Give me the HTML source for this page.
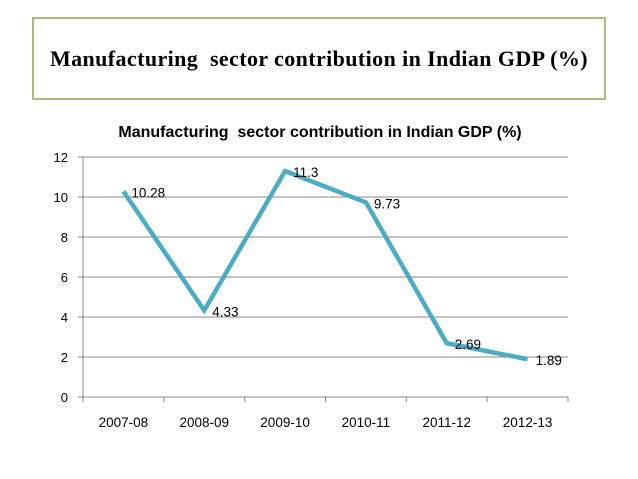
<!DOCTYPE html>
<html><head><meta charset="utf-8"><style>
body{margin:0;background:#fff;width:638px;height:479px;overflow:hidden;position:relative;font-family:"Liberation Sans",sans-serif}
#titlebox{position:absolute;left:32px;top:17px;width:570px;height:79px;border:2px solid #a9bd7a;display:flex;align-items:center;justify-content:center}
#titlebox span{font-family:"Liberation Serif",serif;font-weight:bold;font-size:22px;letter-spacing:0.4px;color:#000;white-space:pre}
</style></head><body>
<div id="titlebox"><span>Manufacturing  sector contribution in Indian GDP (%)</span></div>
<svg id="chart" width="638" height="479" style="position:absolute;left:0;top:0"></svg>
<script>
const categories=["2007-08","2008-09","2009-10","2010-11","2011-12","2012-13"];
const values=[10.28,4.33,11.3,9.73,2.69,1.89];
const valueLabels=["10.28","4.33","11.3","9.73","2.69","1.89"];
const yTicks=[0,2,4,6,8,10,12];
const svg=document.getElementById('chart');
const NS='http://www.w3.org/2000/svg';
const L=83,R=568,T=157,B=397,yMax=12;
const band=(R-L)/categories.length;
const x=i=>L+band*(i+0.5);
const y=v=>B-(v/yMax)*(B-T);
function mk(t,a){const e=document.createElementNS(NS,t);for(const k in a)e.setAttribute(k,a[k]);svg.appendChild(e);return e;}
const ct=mk('text',{x:320,y:137,'text-anchor':'middle','font-size':'16','font-weight':'bold',fill:'#000',style:'white-space:pre'});
ct.textContent='Manufacturing  sector contribution in Indian GDP (%)';


yTicks.forEach(v=>{
  const g=mk('line',{x1:L-5,x2:R,y1:y(v),y2:y(v),stroke:'#888','stroke-width':1});
  
  
  const t=mk('text',{x:L-15,y:y(v)+5,'text-anchor':'end','font-size':'13',fill:'#000'});
  t.textContent=v;
  
  
});
const ax=mk('line',{x1:L,x2:L,y1:T,y2:B,stroke:'#888'});


categories.forEach((c,i)=>{
  const tk=mk('line',{x1:L+band*i,x2:L+band*i,y1:B,y2:B+5,stroke:'#888'});
  
  
  const t=mk('text',{x:x(i),y:B+30,'text-anchor':'middle','font-size':'13.5',fill:'#000'});
  t.textContent=c;
  
  
});
const tkEnd=mk('line',{x1:R,x2:R,y1:B,y2:B+5,stroke:'#888'});


const pl=mk('polyline',{points:values.map((v,i)=>x(i)+','+y(v)).join(' '),fill:'none',stroke:'#4bacc6','stroke-width':4.5,'stroke-linejoin':'miter'});


values.forEach((v,i)=>{
  const t=mk('text',{x:x(i)+8,y:y(v)+6,'font-size':'13.5',fill:'#000'});
  t.textContent=valueLabels[i];
  
  
});
</script>
</body></html>
